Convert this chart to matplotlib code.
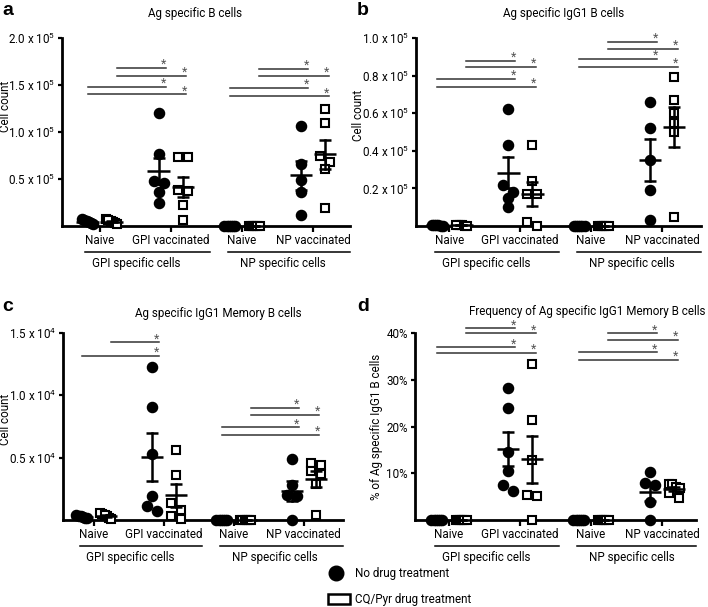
import matplotlib
matplotlib.use('Agg')
import matplotlib.pyplot as plt
import numpy as np
from matplotlib.lines import Line2D
from matplotlib.patches import Rectangle
import matplotlib.transforms as mtransforms

FONT = 'Roboto'
plt.rcParams['font.family'] = [FONT, 'DejaVu Sans']
plt.rcParams['mathtext.fontset'] = 'custom'
plt.rcParams['mathtext.rm'] = FONT
plt.rcParams['mathtext.it'] = FONT

# ---------------- data ----------------
categories = ['Naive', 'GPI vaccinated', 'Naive', 'NP vaccinated']
groups = ['GPI specific cells', 'NP specific cells']
series = ['No drug treatment', 'CQ/Pyr drug treatment']
panel_letters = ['a', 'b', 'c', 'd']
titles = ['Ag specific B cells', 'Ag specific IgG1 B cells',
          'Ag specific IgG1 Memory B cells', 'Frequency of Ag specific IgG1 Memory B cells']
ylabels = ['Cell count', 'Cell count', 'Cell count', '% of Ag specific IgG1 B cells']

# panel a (cell count)
a_no_drug = [[4000, 6000, 3000, 7000, 5000, 2000],
             [120000, 77000, 48000, 46000, 36000, 24000],
             [0, 0, 0, 0, 0, 0],
             [106000, 66000, 49000, 36000, 12000]]
a_cq_pyr = [[3000, 7000, 5000, 4000, 2000, 6000],
            [73000, 73000, 38000, 37000, 22000, 6000],
            [0, 0, 0, 0, 0, 0],
            [125000, 110000, 75000, 68000, 61000, 19000]]
# panel b (cell count)
b_no_drug = [[500, 300, 200, 400, 100, 600],
             [62000, 43000, 22000, 18000, 15000, 10000],
             [0, 0, 0, 0, 0, 0],
             [66000, 52000, 35000, 19000, 3000]]
b_cq_pyr = [[400, 500, 300, 600, 200, 100],
            [43000, 24000, 17000, 17000, 2000, 0],
            [0, 0, 0, 0, 0, 0],
            [79000, 67000, 60000, 55000, 50000, 5000]]
# panel c (cell count)
c_no_drug = [[200, 300, 400, 150, 250, 350],
             [12300, 9100, 5300, 1900, 1100, 700],
             [0, 0, 0, 0, 0, 0],
             [4900, 2800, 2000, 1900, 0]]
c_cq_pyr = [[500, 600, 300, 200, 400, 100],
            [5600, 3600, 1400, 800, 300, 100],
            [0, 0, 0, 0, 0, 0],
            [4600, 4400, 3900, 3700, 2900, 400]]
# panel d (percent)
d_no_drug = [[0, 0, 0, 0, 0, 0],
             [28.3, 24.0, 14.6, 10.5, 7.5, 6.2],
             [0, 0, 0, 0, 0, 0],
             [10.2, 7.5, 8.0, 3.9, 0.0]]
d_cq_pyr = [[0, 0, 0, 0, 0, 0],
            [33.3, 21.4, 12.8, 5.3, 5.1, 0.1],
            [0, 0, 0, 0, 0, 0],
            [7.8, 7.6, 7.1, 6.8, 5.7, 4.6]]

# y ticks
a_ticks = [0.5e5, 1.0e5, 1.5e5, 2.0e5]
a_ticklabels = ['0.5 x 10$^{5}$', '1.0 x 10$^{5}$', '1.5 x 10$^{5}$', '2.0 x 10$^{5}$']
b_ticks = [0.2e5, 0.4e5, 0.6e5, 0.8e5, 1.0e5]
b_ticklabels = ['0.2 x 10$^{5}$', '0.4 x 10$^{5}$', '0.6 x 10$^{5}$', '0.8 x 10$^{5}$', '1.0 x 10$^{5}$']
c_ticks = [0.5e4, 1.0e4, 1.5e4]
c_ticklabels = ['0.5 x 10$^{4}$', '1.0 x 10$^{4}$', '1.5 x 10$^{4}$']
d_ticks = [10, 20, 30, 40]
d_ticklabels = ['10%', '20%', '30%', '40%']

# significance comparisons: (level, start category, start series, end category, end series)
a_sig = [(1.68e5, 0, 1, 1, 0), (1.60e5, 0, 1, 1, 1), (1.48e5, 0, 0, 1, 0), (1.40e5, 0, 0, 1, 1),
         (1.67e5, 2, 1, 3, 0), (1.60e5, 2, 1, 3, 1), (1.47e5, 2, 0, 3, 0), (1.38e5, 2, 0, 3, 1)]
b_sig = [(0.878e5, 0, 1, 1, 0), (0.846e5, 0, 1, 1, 1), (0.782e5, 0, 0, 1, 0), (0.739e5, 0, 0, 1, 1),
         (0.979e5, 2, 1, 3, 0), (0.941e5, 2, 1, 3, 1), (0.888e5, 2, 0, 3, 0), (0.846e5, 2, 0, 3, 1)]
c_sig = [(1.425e4, 0, 1, 1, 0), (1.318e4, 0, 0, 1, 0),
         (0.898e4, 2, 1, 3, 0), (0.844e4, 2, 1, 3, 1), (0.742e4, 2, 0, 3, 0), (0.683e4, 2, 0, 3, 1)]
d_sig = [(41.0, 0, 1, 1, 0), (39.9, 0, 1, 1, 1), (36.9, 0, 0, 1, 0), (35.7, 0, 0, 1, 1),
         (39.9, 2, 1, 3, 0), (38.5, 2, 1, 3, 1), (35.9, 2, 0, 3, 0), (34.2, 2, 0, 3, 1)]

# ---------------- layout ----------------
W, H = 708, 607
fig = plt.figure(figsize=(W / 100, H / 100), dpi=100)

# axes rectangles in pixels: left, right, top, bottom
rects = [(62, 350, 38, 226), (416, 701, 38, 226), (63, 343, 333, 520), (415, 696, 333, 520)]
ylims = [(0, 2.0e5), (0, 1.0e5), (0, 1.5e4), (0, 40)]
xlims = [(-0.53, 3.52), (-0.47, 3.55), (-0.44, 3.56), (-0.48, 3.48)]
ylabel_px = [(6, 106), (359, 115), (6, 419), (377, 427)]
title_x = [195, 564, 218, 587]
title_y = [13, 13, 313, 312]
letter_pos = [(2, 2), (357, 2), (2, 298), (357, 298)]

data_sets = [(a_no_drug, a_cq_pyr), (b_no_drug, b_cq_pyr), (c_no_drug, c_cq_pyr), (d_no_drug, d_cq_pyr)]
tick_sets = [(a_ticks, a_ticklabels), (b_ticks, b_ticklabels), (c_ticks, c_ticklabels), (d_ticks, d_ticklabels)]
sig_sets = [a_sig, b_sig, c_sig, d_sig]

SER_OFF = [-0.17, 0.17]
SIG_START = [-0.17, 0.24]
SIG_END = [-0.07, 0.22]
FS = 8.4
DIAM = 10.0


def swarm_offsets(vals, ypx, xpx, diam=DIAM, maxw=11.0):
    vals = np.asarray(vals, float)
    order = np.argsort(-vals, kind='stable')
    dx = np.zeros(len(vals))
    rows, cur = [], [order[0]]
    for i in order[1:]:
        if abs(vals[cur[0]] - vals[i]) * ypx < diam * 0.8:
            cur.append(i)
        else:
            rows.append(cur)
            cur = [i]
    rows.append(cur)
    for r in rows:
        n = len(r)
        if n > 1:
            w = min((n - 1) * diam, maxw)
            offs = np.linspace(-w / 2, w / 2, n)
            for j, idx in enumerate(r):
                dx[idx] = offs[j] / xpx
    return dx


for p in range(4):
    l, r, t, b = rects[p]
    ax = fig.add_axes([l / W, 1 - b / H, (r - l) / W, (b - t) / H])
    ax.set_xlim(*xlims[p])
    ax.set_ylim(*ylims[p])
    ypx = (b - t) / (ylims[p][1] - ylims[p][0])
    xpx = (r - l) / (xlims[p][1] - xlims[p][0])
    for s in ['top', 'right']:
        ax.spines[s].set_visible(False)
    for s in ['left', 'bottom']:
        ax.spines[s].set_linewidth(2.0)
    ax.set_xticks(range(4))
    ax.set_xticklabels([])
    ax.tick_params(axis='x', length=4, width=1.6, direction='out')
    ticks, tlabels = tick_sets[p]
    ax.set_yticks(ticks)
    ax.set_yticklabels(tlabels, fontsize=FS)
    ax.tick_params(axis='y', length=3, width=1.6, direction='out', pad=2)

    nodrug, cq = data_sets[p]
    for si, sdata in enumerate((nodrug, cq)):
        for ci, vals in enumerate(sdata):
            vals = np.asarray(vals, float)
            xc = ci + SER_OFF[si]
            dx = swarm_offsets(vals, ypx, xpx)
            if si == 0:
                ax.plot(xc + dx, vals, 'o', ms=7.3, color='black', mec='black',
                        clip_on=False, zorder=3)
            else:
                ax.plot(xc + dx, vals, 's', ms=5.6, mfc='white', mec='black', mew=1.5,
                        clip_on=False, zorder=3)
            m = vals.mean()
            sem = vals.std(ddof=1) / np.sqrt(len(vals))
            ax.plot([xc - 0.16, xc + 0.16], [m, m], color='black', lw=1.8, zorder=4,
                    solid_capstyle='butt', clip_on=False)
            ax.plot([xc, xc], [m - sem, m + sem], color='black', lw=1.8, zorder=4, clip_on=False)
            for yy in (m - sem, m + sem):
                ax.plot([xc - 0.085, xc + 0.085], [yy, yy], color='black', lw=1.8, zorder=4,
                        solid_capstyle='butt', clip_on=False)

    # significance bars
    star_tr = mtransforms.offset_copy(ax.transData, fig=fig, x=-2, y=-3, units='dots')
    for (lev, c0, s0, c1, s1) in sig_sets[p]:
        x0 = c0 + SIG_START[s0]
        x1 = c1 + SIG_END[s1]
        ax.plot([x0, x1], [lev, lev], color='#333333', lw=1.1, clip_on=False, zorder=2)
        ax.text(x1, lev, '*', transform=star_tr, ha='center', va='bottom',
                fontsize=9, color='#555555')

    # category labels and group lines
    xt = ax.get_xaxis_transform()
    lab_tr = mtransforms.offset_copy(xt, fig=fig, x=0, y=-14, units='dots')
    for ci, cat in enumerate(categories):
        ax.text(ci, 0, cat, transform=lab_tr, ha='center', va='center', fontsize=FS)
    line_tr = mtransforms.offset_copy(xt, fig=fig, x=0, y=-26, units='dots')
    grp_tr = mtransforms.offset_copy(xt, fig=fig, x=0, y=-37, units='dots')
    ax.plot([-0.2, 1.55], [0, 0], transform=line_tr, color='black', lw=1.1, clip_on=False)
    ax.plot([1.8, xlims[p][1]], [0, 0], transform=line_tr, color='black', lw=1.1, clip_on=False)
    ax.text(0.52, 0, groups[0], transform=grp_tr, ha='center', va='center', fontsize=FS)
    ax.text(2.58, 0, groups[1], transform=grp_tr, ha='center', va='center', fontsize=FS)

    fig.text(title_x[p] / W, 1 - title_y[p] / H, titles[p], ha='center', va='center', fontsize=FS)
    fig.text(letter_pos[p][0] / W, 1 - letter_pos[p][1] / H, panel_letters[p], ha='left', va='top',
             fontsize=14, fontweight='bold', family=['Liberation Sans', 'DejaVu Sans'])
    fig.text(ylabel_px[p][0] / W, 1 - ylabel_px[p][1] / H, ylabels[p], rotation=90,
             ha='center', va='center', fontsize=FS)

# legend
fig.add_artist(Line2D([336 / W], [1 - 573 / H], marker='o', ms=10.5, color='black',
                      transform=fig.transFigure))
fig.text(355 / W, 1 - 573 / H, series[0], ha='left', va='center', fontsize=FS)
fig.add_artist(Rectangle((328 / W, 1 - 604 / H), 22 / W, 10 / H, facecolor='white',
                         edgecolor='black', lw=1.8, transform=fig.transFigure))
fig.text(355 / W, 1 - 599 / H, series[1], ha='left', va='center', fontsize=FS)

fig.savefig('out.png', dpi=100)
